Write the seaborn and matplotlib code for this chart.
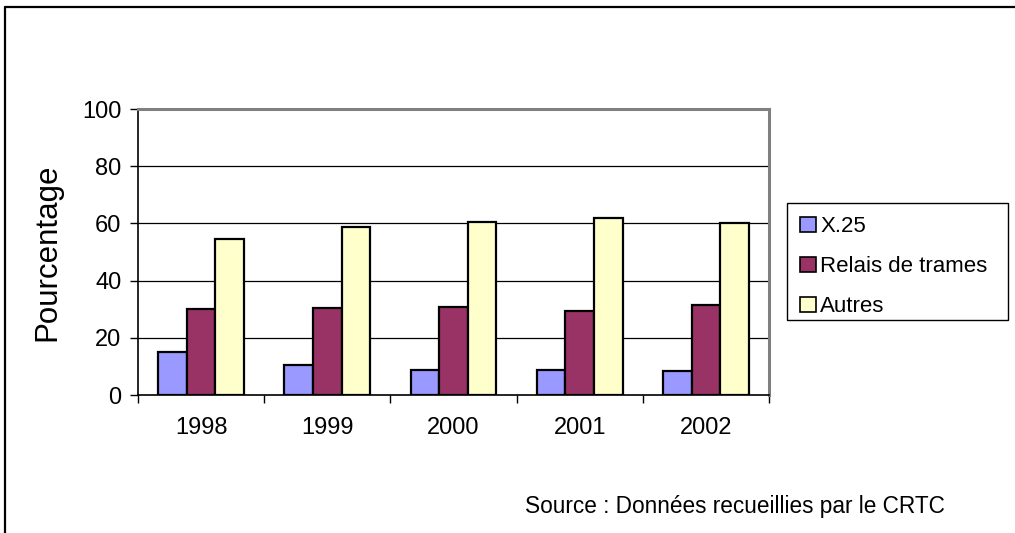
import matplotlib
matplotlib.use("Agg")
import matplotlib.pyplot as plt
from matplotlib.lines import Line2D
from matplotlib.patches import Patch, Rectangle
import pandas as pd
import seaborn as sns

# Share of services by year (percent)
years = ["1998", "1999", "2000", "2001", "2002"]
series = ["X.25", "Relais de trames", "Autres"]
x25 = [15.1, 10.5, 8.9, 8.8, 8.5]
relais = [30.2, 30.5, 30.8, 29.5, 31.6]
autres = [54.7, 58.9, 60.6, 61.9, 60.1]
colors = ["#9999FF", "#993366", "#FFFFCC"]
yticks = [0, 20, 40, 60, 80, 100]

df = pd.DataFrame({
    "Année": years * 3,
    "Série": [series[0]] * 5 + [series[1]] * 5 + [series[2]] * 5,
    "Pourcentage": x25 + relais + autres,
})

sns.set_theme(style="white")
plt.rcParams["font.family"] = ["Liberation Sans", "DejaVu Sans"]
plt.rcParams["text.color"] = "black"
plt.rcParams["axes.labelcolor"] = "black"
plt.rcParams["xtick.color"] = "black"
plt.rcParams["ytick.color"] = "black"

W, H = 1015, 533
fig = plt.figure(figsize=(W / 100, H / 100), dpi=100)
ax = fig.add_axes([138 / W, 1 - 395 / H, (769 - 138) / W, (395 - 109) / H])

sns.barplot(data=df, x="Année", y="Pourcentage", hue="Série", hue_order=series,
            palette=colors, width=0.68, edgecolor="black", linewidth=1.6,
            saturation=1, ax=ax, legend=False, zorder=3)

ax.set_xlim(-0.5, len(years) - 0.5)
ax.set_ylim(0, 100)
ax.set_yticks(yticks)
ax.set_yticklabels([str(v) for v in yticks], fontsize=17)
ax.set_xlabel("")
ax.set_ylabel("Pourcentage", fontsize=22.5, labelpad=14)

# Horizontal gridlines
for v in yticks[1:-1]:
    ax.axhline(v, color="black", linewidth=0.9, zorder=1)

# Category ticks between year groups
ax.set_xticks(range(len(years)))
ax.set_xticklabels(years, fontsize=17)
ax.tick_params(axis="x", which="major", length=0, pad=16)
ax.set_xticks([i - 0.5 for i in range(len(years) + 1)], minor=True)
ax.tick_params(axis="x", which="minor", length=6, width=1, color="black", direction="out", bottom=True)
ax.tick_params(axis="y", length=6, width=1, color="black", direction="out", left=True, pad=6)

for side in ["top", "right"]:
    ax.spines[side].set_color("#808080")
    ax.spines[side].set_linewidth(2.2)
for side in ["left", "bottom"]:
    ax.spines[side].set_color("black")
    ax.spines[side].set_linewidth(1.2)

# Legend entries, with a plain rectangular box drawn around them
handles = [Patch(facecolor=c, edgecolor="black", linewidth=1.2) for c in colors]
ax.legend(handles, series, loc="upper left", bbox_to_anchor=(787 / W, 1 - 203 / H),
          bbox_transform=fig.transFigure, borderaxespad=0, fontsize=16,
          handlelength=0.7, handleheight=0.7, handletextpad=0.2,
          labelspacing=0.85, borderpad=0.6, frameon=False)
fig.add_artist(Rectangle((787 / W, 1 - 320 / H), (1008 - 787) / W, (320 - 203) / H,
                         transform=fig.transFigure, facecolor="none",
                         edgecolor="black", linewidth=1.0))

fig.text(525 / W, 1 - 506 / H, "Source : Données recueillies par le CRTC",
         fontsize=16.3, ha="left", va="center")

# Outer chart frame (top and left edges)
fig.add_artist(Line2D([5 / W, 1], [1 - 6.5 / H, 1 - 6.5 / H], color="black",
                      linewidth=1.6, transform=fig.transFigure))
fig.add_artist(Line2D([5 / W, 5 / W], [0, 1 - 6.5 / H], color="black",
                      linewidth=1.6, transform=fig.transFigure))

fig.savefig("out.png", dpi=100)
